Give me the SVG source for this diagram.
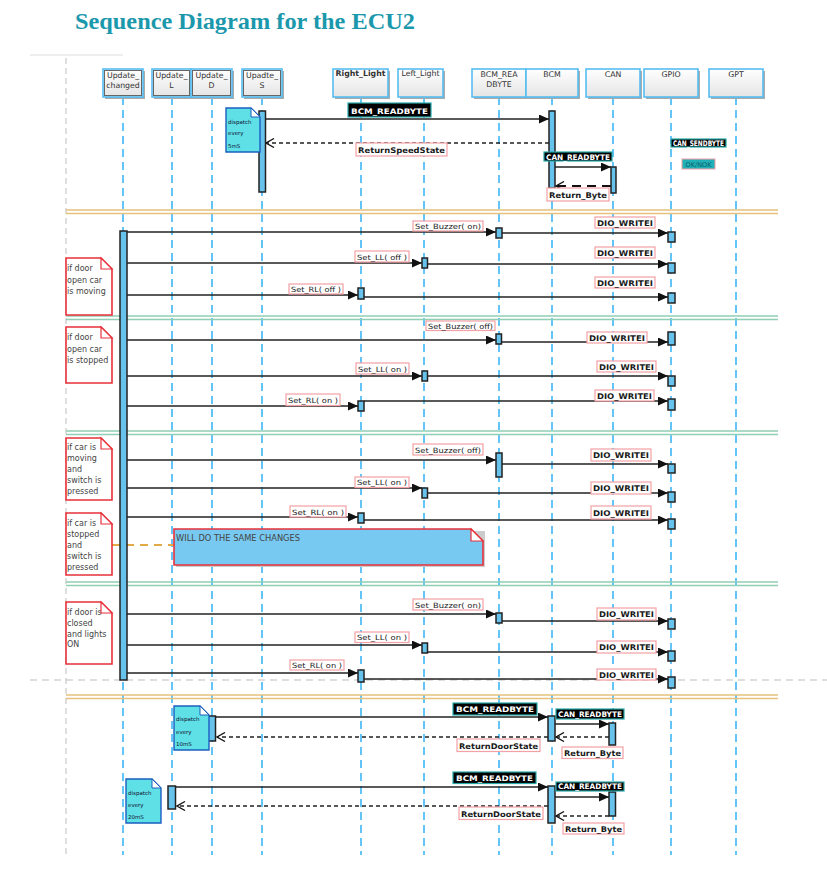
<svg xmlns="http://www.w3.org/2000/svg" width="827" height="890" viewBox="0 0 827 890">
<defs>
<marker id="arr" markerUnits="userSpaceOnUse" markerWidth="11" markerHeight="9" refX="10" refY="4.5" orient="auto"><path d="M0,0 L10,4.5 L0,9 z" fill="#111"/></marker>
<marker id="open" markerUnits="userSpaceOnUse" markerWidth="10" markerHeight="10" refX="9" refY="5" orient="auto"><path d="M1,0.5 L9,5 L1,9.5" fill="none" stroke="#111" stroke-width="1.3"/></marker>
<linearGradient id="hg" x1="0" y1="0" x2="0" y2="1"><stop offset="0" stop-color="#ffffff"/><stop offset="1" stop-color="#e4e4e4"/></linearGradient>
</defs>
<style>
.life{stroke:#3db7f5;stroke-width:1.6;stroke-dasharray:8,5;fill:none}
.hbox{fill:url(#hg);stroke:#55bdf2;stroke-width:1.6}
.hsh{fill:#aaa}
.hin{fill:none;stroke:#666;stroke-width:1}
.ht{font-family:"DejaVu Sans",sans-serif;font-size:7.8px;fill:#333;text-anchor:middle}
.msg{stroke:#222;stroke-width:1.6;fill:none}
.ret{stroke:#222;stroke-width:1.3;stroke-dasharray:4,3;fill:none}
.act{fill:#68c3ec;stroke:#222;stroke-width:1.5}
.lbl{fill:#fff;stroke:#f4a0a4;stroke-width:1.2}
.lt{font-family:"DejaVu Sans",sans-serif;font-size:7.2px;fill:#222}
.lb{font-family:"DejaVu Sans",sans-serif;font-size:7.8px;font-weight:bold;fill:#1a1a1a}
.blk{fill:#000;stroke:#2aa9a9;stroke-width:1.2}
.wt{font-family:"DejaVu Sans",sans-serif;font-size:7.6px;font-weight:bold;fill:#fff;text-anchor:middle}
.note{fill:#fff;stroke:#e8303a;stroke-width:1.6}
.nt{font-family:"DejaVu Sans",sans-serif;font-size:8px;fill:#444}
.dnote{fill:#5fe0e6;stroke:#1a5fc0;stroke-width:1.4}
.fold{fill:#fff}
.dt{font-family:"DejaVu Sans",sans-serif;font-size:5.5px;fill:#113}
.sepO{stroke:#e6c17a;stroke-width:1.4}
.sepG{stroke:#8fcfb5;stroke-width:1.4}
</style>
<rect width="827" height="890" fill="#fff"/>
<text x="75" y="29" font-family="Liberation Serif, serif" font-size="24" font-weight="bold" fill="#1b98ac" textLength="340" lengthAdjust="spacingAndGlyphs">Sequence Diagram for the ECU2</text>
<line x1="30" y1="55" x2="123" y2="55" stroke="#ddd" stroke-width="1"/>
<line x1="66" y1="58" x2="66" y2="855" stroke="#c8c8c8" stroke-width="1.2" stroke-dasharray="6,4"/>

<g id="lifelines">
<line class="life" x1="123" y1="97" x2="123" y2="855"/>
<line class="life" x1="172" y1="97" x2="172" y2="855"/>
<line class="life" x1="212" y1="97" x2="212" y2="855"/>
<line class="life" x1="262" y1="97" x2="262" y2="855"/>
<line class="life" x1="361" y1="97" x2="361" y2="855"/>
<line class="life" x1="424" y1="97" x2="424" y2="855"/>
<line class="life" x1="499" y1="97" x2="499" y2="855"/>
<line class="life" x1="552" y1="97" x2="552" y2="855"/>
<line class="life" x1="613" y1="97" x2="613" y2="855"/>
<line class="life" x1="671" y1="97" x2="671" y2="855"/>
<line class="life" x1="736" y1="97" x2="736" y2="855"/>
</g>

<g id="separators">
<line class="sepO" x1="66" y1="210" x2="778" y2="210"/><line class="sepO" x1="66" y1="213.5" x2="778" y2="213.5"/>
<line class="sepG" x1="66" y1="316" x2="778" y2="316"/><line class="sepG" x1="66" y1="319.5" x2="778" y2="319.5"/>
<line class="sepG" x1="66" y1="431" x2="778" y2="431"/><line class="sepG" x1="66" y1="434.5" x2="778" y2="434.5"/>
<line class="sepG" x1="66" y1="582" x2="778" y2="582"/><line class="sepG" x1="66" y1="585.5" x2="778" y2="585.5"/>
<line class="sepO" x1="66" y1="695" x2="778" y2="695"/><line class="sepO" x1="66" y1="698.5" x2="778" y2="698.5"/>
<line x1="30" y1="680" x2="827" y2="680" stroke="#bdbdbd" stroke-width="1.2" stroke-dasharray="7,5"/>
</g>

<g id="node-update-changed"><rect class="hsh" x="105" y="71" width="40" height="28"/><rect class="hbox" x="103" y="69" width="40" height="28"/><rect class="hin" x="104.5" y="70.5" width="37" height="25"/><text class="ht" x="123" y="78">Update_</text><text class="ht" x="123" y="88">changed</text></g>
<g id="node-update-l"><rect class="hsh" x="154" y="71" width="39" height="28"/><rect class="hbox" x="152" y="69" width="39" height="28"/><rect class="hin" x="153.5" y="70.5" width="36" height="25"/><text class="ht" x="171.5" y="78">Update_</text><text class="ht" x="171.5" y="88">L</text></g>
<g id="node-update-d"><rect class="hsh" x="193" y="71" width="41" height="28"/><rect class="hbox" x="191" y="69" width="41" height="28"/><rect class="hin" x="192.5" y="70.5" width="38" height="25"/><text class="ht" x="211.5" y="78">Update_</text><text class="ht" x="211.5" y="88">D</text></g>
<g id="node-update-s"><rect class="hsh" x="244" y="71" width="40" height="28"/><rect class="hbox" x="242" y="69" width="40" height="28"/><rect class="hin" x="243.5" y="70.5" width="37" height="25"/><text class="ht" x="262" y="78">Upadte_</text><text class="ht" x="262" y="88">S</text></g>
<g id="node-right-light"><rect class="hsh" x="335" y="71" width="55" height="28"/><rect class="hbox" x="333" y="69" width="55" height="28"/><text class="ht" x="360.5" y="76" font-weight="bold">Right_Light</text></g>
<g id="node-left-light"><rect class="hsh" x="400" y="71" width="45" height="28"/><rect class="hbox" x="398" y="69" width="45" height="28"/><text class="ht" x="420.5" y="76">Left_Light</text></g>
<g id="node-bcm-readbyte"><rect class="hsh" x="474" y="71" width="54" height="28"/><rect class="hbox" x="472" y="69" width="54" height="28"/><text class="ht" x="499" y="77">BCM_REA</text><text class="ht" x="499" y="87">DBYTE</text></g>
<g id="node-bcm"><rect class="hsh" x="528" y="71" width="52" height="28"/><rect class="hbox" x="526" y="69" width="52" height="28"/><text class="ht" x="552" y="77">BCM</text></g>
<g id="node-can"><rect class="hsh" x="588" y="71" width="54" height="28"/><rect class="hbox" x="586" y="69" width="54" height="28"/><text class="ht" x="613" y="77">CAN</text></g>
<g id="node-gpio"><rect class="hsh" x="646" y="71" width="54" height="28"/><rect class="hbox" x="644" y="69" width="54" height="28"/><text class="ht" x="671" y="77">GPIO</text></g>
<g id="node-gpt"><rect class="hsh" x="711" y="71" width="54" height="28"/><rect class="hbox" x="709" y="69" width="54" height="28"/><text class="ht" x="736" y="77">GPT</text></g>

<g id="connectors">
<line class="msg" x1="265" y1="119" x2="549" y2="119" marker-end="url(#arr)"/>
<line class="ret" x1="549" y1="143" x2="266" y2="143" marker-end="url(#open)"/>
<line class="msg" x1="555" y1="167" x2="611" y2="167" marker-end="url(#arr)"/>
<line x1="611" y1="186" x2="556" y2="186" stroke="#111" stroke-width="2" stroke-dasharray="9,6" marker-end="url(#open)"/>
<line class="msg" x1="127" y1="232" x2="496" y2="232" marker-end="url(#arr)"/>
<line class="msg" x1="502" y1="233" x2="668" y2="233" marker-end="url(#arr)"/>
<line class="msg" x1="127" y1="263" x2="422" y2="263" marker-end="url(#arr)"/>
<line class="msg" x1="427" y1="264" x2="668" y2="264" marker-end="url(#arr)"/>
<line class="msg" x1="127" y1="295" x2="358" y2="295" marker-end="url(#arr)"/>
<line class="msg" x1="364" y1="297" x2="668" y2="297" marker-end="url(#arr)"/>
<line class="msg" x1="127" y1="340" x2="496" y2="340" marker-end="url(#arr)"/>
<line class="msg" x1="501" y1="342" x2="668" y2="342" marker-end="url(#arr)"/>
<line class="msg" x1="127" y1="376" x2="422" y2="376" marker-end="url(#arr)"/>
<line class="msg" x1="427" y1="376" x2="668" y2="376" marker-end="url(#arr)"/>
<line class="msg" x1="127" y1="406" x2="358" y2="406" marker-end="url(#arr)"/>
<line class="msg" x1="364" y1="401" x2="668" y2="401" marker-end="url(#arr)"/>
<line class="msg" x1="127" y1="460" x2="496" y2="460" marker-end="url(#arr)"/>
<line class="msg" x1="502" y1="464" x2="668" y2="464" marker-end="url(#arr)"/>
<line class="msg" x1="127" y1="488" x2="422" y2="488" marker-end="url(#arr)"/>
<line class="msg" x1="427" y1="493" x2="668" y2="493" marker-end="url(#arr)"/>
<line class="msg" x1="127" y1="517" x2="358" y2="517" marker-end="url(#arr)"/>
<line class="msg" x1="364" y1="520" x2="668" y2="520" marker-end="url(#arr)"/>
<line x1="112" y1="545" x2="174" y2="545" stroke="#e3aa45" stroke-width="2" stroke-dasharray="8,6"/>
<line class="msg" x1="127" y1="614" x2="496" y2="614" marker-end="url(#arr)"/>
<line class="msg" x1="502" y1="621" x2="668" y2="621" marker-end="url(#arr)"/>
<line class="msg" x1="127" y1="645" x2="422" y2="645" marker-end="url(#arr)"/>
<line class="msg" x1="427" y1="652" x2="668" y2="652" marker-end="url(#arr)"/>
<line class="msg" x1="127" y1="673" x2="358" y2="673" marker-end="url(#arr)"/>
<line class="msg" x1="364" y1="679" x2="668" y2="679" marker-end="url(#arr)"/>
<line class="msg" x1="216" y1="717" x2="548" y2="717" marker-end="url(#arr)"/>
<line class="msg" x1="555" y1="724" x2="609" y2="724" marker-end="url(#arr)"/>
<line class="ret" x1="548" y1="737" x2="217" y2="737" marker-end="url(#open)"/>
<line class="ret" x1="609" y1="737" x2="556" y2="737" marker-end="url(#open)"/>
<line class="msg" x1="176" y1="787" x2="548" y2="787" marker-end="url(#arr)"/>
<line class="msg" x1="555" y1="797" x2="609" y2="797" marker-end="url(#arr)"/>
<line class="ret" x1="548" y1="806" x2="177" y2="806" marker-end="url(#open)"/>
<line class="ret" x1="609" y1="816" x2="556" y2="816" marker-end="url(#open)"/>
</g>

<g id="activations">
<rect class="act" x="259" y="111" width="6.5" height="81"/>
<rect class="act" x="549" y="111" width="6" height="77"/>
<rect class="act" x="611" y="167" width="5" height="26"/>
<rect class="act" x="120" y="231" width="7" height="449"/>
<rect class="act" x="496" y="228" width="6" height="10"/><rect class="act" x="668" y="232" width="7" height="10"/>
<rect class="act" x="422" y="258" width="5.5" height="10"/><rect class="act" x="668" y="263" width="7" height="10"/>
<rect class="act" x="358" y="288" width="6" height="11"/><rect class="act" x="668" y="293" width="7" height="10"/>
<rect class="act" x="496" y="334" width="5.5" height="10"/><rect class="act" x="668" y="332" width="7" height="13"/>
<rect class="act" x="422" y="371" width="5.5" height="10"/><rect class="act" x="668" y="376" width="7" height="10"/>
<rect class="act" x="358" y="401" width="6" height="10"/><rect class="act" x="668" y="399" width="7" height="11"/>
<rect class="act" x="496" y="453" width="6" height="24"/><rect class="act" x="668" y="464" width="7" height="9"/>
<rect class="act" x="422" y="488" width="5.5" height="10"/><rect class="act" x="668" y="492" width="7" height="10"/>
<rect class="act" x="358" y="513" width="6" height="10"/><rect class="act" x="668" y="519" width="7" height="10"/>
<rect class="act" x="496" y="613" width="6" height="10"/><rect class="act" x="668" y="619" width="7" height="10"/>
<rect class="act" x="422" y="643" width="5.5" height="10"/><rect class="act" x="668" y="651" width="7" height="10"/>
<rect class="act" x="358" y="670" width="6" height="12"/><rect class="act" x="668" y="677" width="7" height="11"/>
<rect class="act" x="208" y="716" width="7.5" height="25"/>
<rect class="act" x="548" y="716" width="7" height="25"/>
<rect class="act" x="609" y="723" width="6.5" height="22"/>
<rect class="act" x="168" y="786" width="7.5" height="23"/>
<rect class="act" x="548" y="786" width="7" height="37"/>
<rect class="act" x="609" y="792" width="6.5" height="24"/>
</g>

<g id="labels">
<rect class="blk" x="348" y="103" width="83" height="14"/><text class="wt" x="389.5" y="113.5" textLength="77" lengthAdjust="spacingAndGlyphs">BCM_READBYTE</text>
<rect class="lbl" x="356" y="143" width="91" height="13"/><text class="lb" x="358" y="152.5" textLength="87" lengthAdjust="spacingAndGlyphs">ReturnSpeedState</text>
<rect class="blk" x="544" y="152" width="68" height="9"/><text class="wt" x="578" y="159.5" font-size="7" font-weight="normal" textLength="64" lengthAdjust="spacingAndGlyphs">CAN_READBYTE</text>
<rect class="lbl" x="547" y="188" width="62" height="13"/><text class="lb" x="549" y="197.5" textLength="58" lengthAdjust="spacingAndGlyphs">Return_Byte</text>
<rect class="blk" x="671" y="139" width="55" height="8"/><text class="wt" x="698.5" y="145.5" font-size="5.6" font-weight="normal" textLength="51" lengthAdjust="spacingAndGlyphs">CAN_SENDBYTE</text>
<rect x="682" y="159" width="33" height="10" fill="#20b0b8" stroke="#f4a0a4" stroke-width="1"/><text x="698.5" y="167" font-family="DejaVu Sans, sans-serif" font-size="6.5" fill="#0b5f66" text-anchor="middle">OK/NOK</text>

<rect class="lbl" x="413" y="221" width="70" height="10"/><text class="lt" x="415" y="229" textLength="66" lengthAdjust="spacingAndGlyphs">Set_Buzzer( on)</text>
<rect class="lbl" x="595" y="217" width="60" height="11"/><text class="lb" x="597" y="225.5" textLength="56" lengthAdjust="spacingAndGlyphs">DIO_WRITEI</text>
<rect class="lbl" x="355" y="251" width="54" height="11"/><text class="lt" x="357" y="259.5" textLength="50" lengthAdjust="spacingAndGlyphs">Set_LL( off )</text>
<rect class="lbl" x="595" y="247" width="60" height="11"/><text class="lb" x="597" y="255.5" textLength="56" lengthAdjust="spacingAndGlyphs">DIO_WRITEI</text>
<rect class="lbl" x="289" y="284" width="54" height="10"/><text class="lt" x="291" y="292" textLength="50" lengthAdjust="spacingAndGlyphs">Set_RL( off )</text>
<rect class="lbl" x="595" y="277" width="60" height="11"/><text class="lb" x="597" y="285.5" textLength="56" lengthAdjust="spacingAndGlyphs">DIO_WRITEI</text>

<rect class="lbl" x="426" y="321" width="69" height="9.5"/><text class="lt" x="428" y="328.8" textLength="65" lengthAdjust="spacingAndGlyphs">Set_Buzzer( off)</text>
<rect class="lbl" x="587" y="332" width="60" height="11"/><text class="lb" x="589" y="340.5" textLength="56" lengthAdjust="spacingAndGlyphs">DIO_WRITEI</text>
<rect class="lbl" x="356" y="363" width="53" height="11"/><text class="lt" x="358" y="371.5" textLength="49" lengthAdjust="spacingAndGlyphs">Set_LL( on )</text>
<rect class="lbl" x="597" y="361" width="59" height="11"/><text class="lb" x="599" y="369.5" textLength="55" lengthAdjust="spacingAndGlyphs">DIO_WRITEI</text>
<rect class="lbl" x="286" y="394" width="54" height="11.5"/><text class="lt" x="288" y="402.5" textLength="50" lengthAdjust="spacingAndGlyphs">Set_RL( on )</text>
<rect class="lbl" x="595" y="390" width="59" height="11"/><text class="lb" x="597" y="398.5" textLength="55" lengthAdjust="spacingAndGlyphs">DIO_WRITEI</text>

<rect class="lbl" x="413" y="444" width="70" height="11"/><text class="lt" x="415" y="452.5" textLength="66" lengthAdjust="spacingAndGlyphs">Set_Buzzer( off)</text>
<rect class="lbl" x="591" y="449" width="60" height="12"/><text class="lb" x="593" y="458" textLength="56" lengthAdjust="spacingAndGlyphs">DIO_WRITEI</text>
<rect class="lbl" x="355" y="477" width="54" height="10.5"/><text class="lt" x="357" y="485" textLength="50" lengthAdjust="spacingAndGlyphs">Set_LL( on )</text>
<rect class="lbl" x="591" y="482" width="60" height="12"/><text class="lb" x="593" y="491" textLength="56" lengthAdjust="spacingAndGlyphs">DIO_WRITEI</text>
<rect class="lbl" x="290" y="506" width="56" height="11"/><text class="lt" x="292" y="514.5" textLength="52" lengthAdjust="spacingAndGlyphs">Set_RL( on )</text>
<rect class="lbl" x="591" y="506" width="60" height="13"/><text class="lb" x="593" y="515.5" textLength="56" lengthAdjust="spacingAndGlyphs">DIO_WRITEI</text>

<rect class="lbl" x="413" y="599" width="70" height="11"/><text class="lt" x="415" y="607.5" textLength="66" lengthAdjust="spacingAndGlyphs">Set_Buzzer( on)</text>
<rect class="lbl" x="597" y="608" width="59" height="12"/><text class="lb" x="599" y="617" textLength="55" lengthAdjust="spacingAndGlyphs">DIO_WRITEI</text>
<rect class="lbl" x="355" y="632" width="54" height="10.5"/><text class="lt" x="357" y="640" textLength="50" lengthAdjust="spacingAndGlyphs">Set_LL( on )</text>
<rect class="lbl" x="597" y="641" width="59" height="12"/><text class="lb" x="599" y="650" textLength="55" lengthAdjust="spacingAndGlyphs">DIO_WRITEI</text>
<rect class="lbl" x="290" y="660" width="54" height="10"/><text class="lt" x="292" y="668" textLength="50" lengthAdjust="spacingAndGlyphs">Set_RL( on )</text>
<rect class="lbl" x="597" y="669" width="59" height="11"/><text class="lb" x="599" y="677.5" textLength="55" lengthAdjust="spacingAndGlyphs">DIO_WRITEI</text>

<rect class="blk" x="453" y="703" width="84" height="12"/><text class="wt" x="495" y="712" textLength="78" lengthAdjust="spacingAndGlyphs">BCM_READBYTE</text>
<rect class="blk" x="556" y="709" width="68" height="10"/><text class="wt" x="590" y="716.8" font-size="7" font-weight="normal" textLength="64" lengthAdjust="spacingAndGlyphs">CAN_READBYTE</text>
<rect class="lbl" x="457" y="739" width="83" height="12.5"/><text class="lb" x="459" y="748.5" textLength="79" lengthAdjust="spacingAndGlyphs">ReturnDoorState</text>
<rect class="lbl" x="562" y="747" width="61" height="11.5"/><text class="lb" x="564" y="756" textLength="57" lengthAdjust="spacingAndGlyphs">Return_Byte</text>
<rect class="blk" x="453" y="772" width="83" height="11.5"/><text class="wt" x="494.5" y="780.8" textLength="77" lengthAdjust="spacingAndGlyphs">BCM_READBYTE</text>
<rect class="blk" x="556" y="782" width="68" height="9"/><text class="wt" x="590" y="789.3" font-size="7" font-weight="normal" textLength="64" lengthAdjust="spacingAndGlyphs">CAN_READBYTE</text>
<rect class="lbl" x="459" y="807" width="84" height="12.5"/><text class="lb" x="461" y="816.5" textLength="80" lengthAdjust="spacingAndGlyphs">ReturnDoorState</text>
<rect class="lbl" x="563" y="823" width="61" height="11"/><text class="lb" x="565" y="831.8" textLength="57" lengthAdjust="spacingAndGlyphs">Return_Byte</text>
</g>

<g id="note-dispatch-5ms"><path class="dnote" d="M226,108 H251 L260,117 V152 H226 Z"/><path class="fold" d="M251,108 V117 H260 Z" stroke="#1a5fc0" stroke-width="1"/><text class="dt" x="228" y="123.5">dispatch</text><text class="dt" x="228" y="135">every</text><text class="dt" x="228" y="147.5" font-size="7">5mS</text></g>
<g id="note-dispatch-10ms"><path class="dnote" d="M174,706 H200 L209,715 V750 H174 Z"/><path class="fold" d="M200,706 V715 H209 Z" stroke="#1a5fc0" stroke-width="1"/><text class="dt" x="176" y="721">dispatch</text><text class="dt" x="176" y="733.5">every</text><text class="dt" x="176" y="745.5" font-size="6.5">10mS</text></g>
<g id="note-dispatch-20ms"><path class="dnote" d="M126,779 H152 L161,788 V823 H126 Z"/><path class="fold" d="M152,779 V788 H161 Z" stroke="#1a5fc0" stroke-width="1"/><text class="dt" x="128" y="794.5">dispatch</text><text class="dt" x="128" y="807">every</text><text class="dt" x="128" y="819" font-size="6.5">20mS</text></g>

<g id="note-door-open-moving"><path class="note" d="M66,258 H101 L112,269 V315 H66 Z"/><path class="fold" d="M101,258 V269 H112 Z" stroke="#e8303a" stroke-width="1.2"/><text class="nt" x="67" y="271">if door</text><text class="nt" x="67" y="283">open car</text><text class="nt" x="67" y="294">is moving</text></g>
<g id="note-door-open-stopped"><path class="note" d="M66,327 H101 L112,338 V383 H66 Z"/><path class="fold" d="M101,327 V338 H112 Z" stroke="#e8303a" stroke-width="1.2"/><text class="nt" x="67" y="340">if door</text><text class="nt" x="67" y="351.5">open car</text><text class="nt" x="67" y="362.5">is stopped</text></g>
<g id="note-car-moving-switch"><path class="note" d="M66,438 H101 L112,449 V500 H66 Z"/><path class="fold" d="M101,438 V449 H112 Z" stroke="#e8303a" stroke-width="1.2"/><text class="nt" x="67" y="450">if car is</text><text class="nt" x="67" y="461">moving</text><text class="nt" x="67" y="472">and</text><text class="nt" x="67" y="483">switch is</text><text class="nt" x="67" y="494">pressed</text></g>
<g id="note-car-stopped-switch"><path class="note" d="M66,513 H101 L112,524 V575 H66 Z"/><path class="fold" d="M101,513 V524 H112 Z" stroke="#e8303a" stroke-width="1.2"/><text class="nt" x="67" y="526">if car is</text><text class="nt" x="67" y="537">stopped</text><text class="nt" x="67" y="548">and</text><text class="nt" x="67" y="559">switch is</text><text class="nt" x="67" y="570">pressed</text></g>
<g id="note-same-changes"><rect x="176" y="531" width="309" height="36" fill="#ccc"/><path d="M174,529 H471 L483,541 V565 H174 Z" fill="#78c9f1" stroke="#e8303a" stroke-width="1.6"/><path class="fold" d="M471,529 V541 H483 Z" stroke="#e8303a" stroke-width="1.2"/><text class="nt" x="176" y="541" font-size="7.2" textLength="124" lengthAdjust="spacingAndGlyphs">WILL DO THE SAME CHANGES</text></g>
<g id="note-door-closed-lights"><path class="note" d="M66,602 H101 L112,613 V664 H66 Z"/><text class="nt" x="67" y="615">if door is</text><path class="fold" d="M101,602 V613 H112 Z" stroke="#e8303a" stroke-width="1.2"/><text class="nt" x="67" y="626">closed</text><text class="nt" x="67" y="636.5">and lights</text><text class="nt" x="67" y="647">ON</text></g>
</svg>
